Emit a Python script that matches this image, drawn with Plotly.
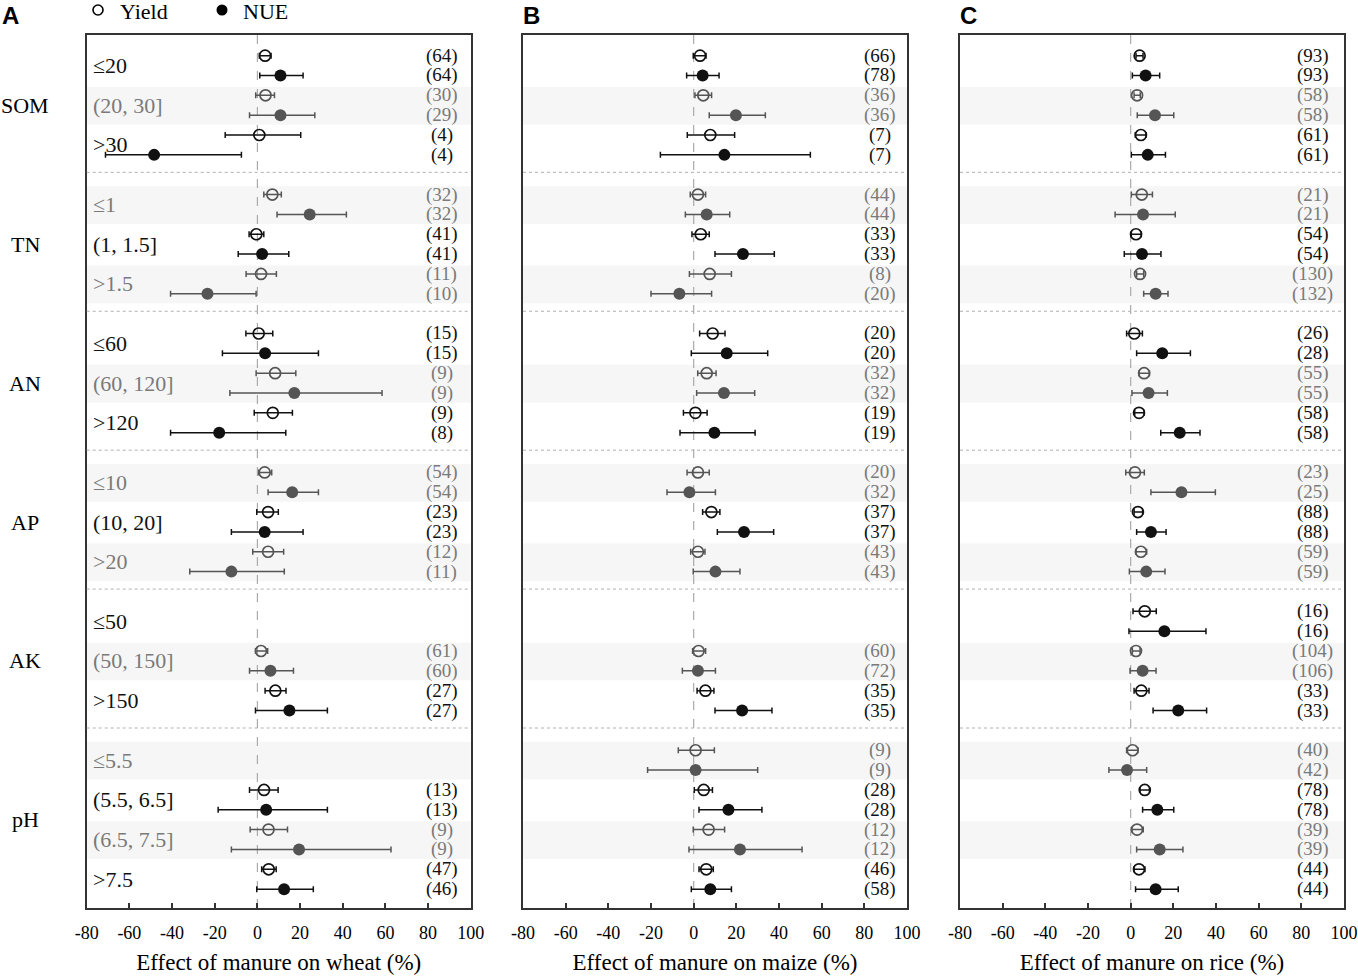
import plotly.graph_objects as go

groups = ["SOM", "TN", "AN", "AP", "AK", "pH"]
levels = [
    ["≤20", "(20, 30]", ">30"],
    ["≤1", "(1, 1.5]", ">1.5"],
    ["≤60", "(60, 120]", ">120"],
    ["≤10", "(10, 20]", ">20"],
    ["≤50", "(50, 150]", ">150"],
    ["≤5.5", "(5.5, 6.5]", "(6.5, 7.5]", ">7.5"],
]
crops = ["wheat", "maize", "rice"]
panel_letters = ["A", "B", "C"]
x_ticks = [-80, -60, -40, -20, 0, 20, 40, 60, 80, 100]

# ---- Wheat ----
wheat_yield = [3.6, 3.8, 0.9, 7.0, -0.5, 1.7, 0.6, 8.3, 7.2, 3.4, 5.0, 5.0, None, 1.7, 8.4, None, 3.1, 5.2, 5.3]
wheat_yield_lo = [0.9, -0.8, -15.1, 3.0, -3.9, -5.3, -5.4, -0.6, -1.5, 0.6, -0.3, -2.2, None, -0.9, 3.6, None, -3.7, -3.4, 2.0]
wheat_yield_hi = [6.4, 8.0, 20.3, 11.2, 3.0, 8.9, 7.2, 18.0, 16.4, 6.7, 9.8, 12.3, None, 4.8, 13.4, None, 9.7, 14.1, 8.8]
wheat_nue = [10.8, 10.8, -48.4, 24.5, 2.2, -23.4, 3.6, 17.3, -17.9, 16.3, 3.4, -12.2, None, 6.1, 15.0, None, 4.1, 19.5, 12.5]
wheat_nue_lo = [1.1, -3.7, -71.2, 9.2, -9.0, -40.7, -16.4, -12.9, -40.7, 5.0, -12.2, -31.7, None, -3.7, -0.9, None, -18.4, -12.2, -0.3]
wheat_nue_hi = [21.4, 26.9, -7.5, 41.7, 14.7, -0.6, 28.6, 58.4, 13.3, 28.6, 21.4, 12.6, None, 16.9, 32.8, None, 32.8, 62.6, 26.2]
wheat_n_yield = [64, 30, 4, 32, 41, 11, 15, 9, 9, 54, 23, 12, None, 61, 27, None, 13, 9, 47]
wheat_n_nue = [64, 29, 4, 32, 41, 10, 15, 9, 8, 54, 23, 11, None, 60, 27, None, 13, 9, 46]

# ---- Maize ----
maize_yield = [3.0, 4.5, 7.8, 2.0, 3.3, 7.5, 8.9, 6.1, 0.8, 2.0, 8.3, 2.0, None, 2.3, 5.5, 0.9, 4.7, 7.0, 5.9]
maize_yield_lo = [-0.2, 0.6, -3.0, -1.6, -0.8, -2.0, 2.8, 1.9, -4.8, -3.1, 4.2, -1.4, None, -0.5, 1.6, -7.2, 0.3, -0.2, 2.5]
maize_yield_hi = [5.8, 8.4, 19.2, 5.6, 7.3, 17.7, 14.7, 10.5, 6.3, 7.3, 12.3, 5.3, None, 5.6, 9.5, 9.7, 8.8, 14.5, 9.2]
maize_nue = [4.2, 19.8, 14.4, 6.1, 23.1, -6.7, 15.5, 14.2, 9.7, -2.0, 23.6, 10.2, None, 2.0, 22.7, 0.9, 16.3, 21.7, 7.8]
maize_nue_lo = [-3.3, 7.3, -15.6, -3.9, 10.0, -20.0, -1.1, 1.4, -6.4, -12.5, 11.1, -0.2, None, -5.3, 10.0, -21.6, 2.5, -2.2, -1.1]
maize_nue_hi = [11.9, 33.6, 54.7, 16.9, 37.8, 8.4, 34.7, 28.6, 28.8, 10.2, 37.5, 21.7, None, 10.2, 36.7, 30.0, 32.0, 50.8, 17.7]
maize_n_yield = [66, 36, 7, 44, 33, 8, 20, 32, 19, 20, 37, 43, None, 60, 35, 9, 28, 12, 46]
maize_n_nue = [78, 36, 7, 44, 33, 20, 20, 32, 19, 32, 37, 43, None, 72, 35, 9, 28, 12, 58]

# ---- Rice ----
rice_yield = [4.2, 3.0, 4.8, 5.2, 2.5, 4.4, 1.7, 6.3, 3.9, 2.0, 3.4, 4.8, 6.6, 2.5, 5.0, 0.9, 6.6, 3.0, 3.9]
rice_yield_lo = [2.5, 1.6, 2.2, 0.3, 0.3, 2.8, -1.9, 3.9, 1.9, -2.3, 1.6, 2.5, 1.1, 0.8, 1.6, -1.9, 4.4, 0.5, 1.6]
rice_yield_hi = [5.8, 4.5, 7.2, 10.2, 5.0, 6.1, 5.5, 8.8, 6.3, 6.4, 5.6, 7.5, 12.0, 4.4, 8.6, 3.4, 8.8, 5.9, 6.7]
rice_nue = [7.0, 11.4, 8.0, 5.8, 5.3, 11.7, 14.8, 8.4, 23.0, 23.8, 9.5, 7.3, 15.8, 5.6, 22.3, -1.7, 12.5, 13.6, 11.7]
rice_nue_lo = [0.8, 3.1, 0.3, -7.3, -3.0, 6.1, 2.8, 0.6, 14.1, 9.5, 2.8, -0.6, -0.8, -0.3, 10.5, -10.2, 5.6, 2.8, 2.3]
rice_nue_hi = [13.6, 20.2, 16.3, 20.9, 14.2, 17.5, 28.0, 17.2, 32.5, 39.7, 16.6, 16.1, 35.3, 11.9, 35.6, 7.5, 20.2, 24.5, 22.3]
rice_n_yield = [93, 58, 61, 21, 54, 130, 26, 55, 58, 23, 88, 59, 16, 104, 33, 40, 78, 39, 44]
rice_n_nue = [93, 58, 61, 21, 54, 132, 28, 55, 58, 25, 88, 59, 16, 106, 33, 42, 78, 39, 44]

data = {
    "wheat": (wheat_yield, wheat_yield_lo, wheat_yield_hi, wheat_nue, wheat_nue_lo, wheat_nue_hi, wheat_n_yield, wheat_n_nue),
    "maize": (maize_yield, maize_yield_lo, maize_yield_hi, maize_nue, maize_nue_lo, maize_nue_hi, maize_n_yield, maize_n_nue),
    "rice": (rice_yield, rice_yield_lo, rice_yield_hi, rice_nue, rice_nue_lo, rice_nue_hi, rice_n_yield, rice_n_nue),
}

# ---- layout geometry ----
W, H = 1358, 977
SERIF = "Liberation Serif, Times New Roman, serif"
BLACK = "#111111"
GREY_MARK = "#555555"
GREY_TEXT = "#7a7a7a"
BAND = "#f6f6f6"

panel_px = [(86.7, 470.8), (523, 907), (960, 1344)]
top_px, bot_px = 35, 908
count_xpos = [0.925, 0.930, 0.919]

# row positions (units)
level_rows = []  # yield row of each level
level_shaded = []
level_group = []
gi = 0
for g, levs in enumerate(groups):
    for k, _ in enumerate(levels[g]):
        level_rows.append(1 + 7 * g + 2 * k)
        level_shaded.append(gi % 2 == 1)
        level_group.append(g)
        gi += 1
sep_rows = [1 + 7 * g + 5 + 0.88 for g in range(len(groups) - 1)]

fig = go.Figure()
shapes = []
annotations = []

for p, crop in enumerate(crops):
    xs = "" if p == 0 else str(p + 1)
    xa, ya = "x" + xs, "y" + xs
    ym, ylo, yhi, nm, nlo, nhi, ny, nn = data[crop]
    for series in ("yield", "nue"):
        for shaded in (False, True):
            col = GREY_MARK if shaded else BLACK
            X, Y, ep, em = [], [], [], []
            for i, r in enumerate(level_rows):
                if level_shaded[i] != shaded:
                    continue
                if series == "yield":
                    m, lo, hi, row = ym[i], ylo[i], yhi[i], r
                else:
                    m, lo, hi, row = nm[i], nlo[i], nhi[i], r + 1
                if m is None:
                    continue
                X.append(m); Y.append(row); ep.append(hi - m); em.append(m - lo)
            if series == "yield":
                marker = dict(symbol="circle-open", size=11, color=col, line=dict(width=1.7, color=col))
            else:
                marker = dict(symbol="circle", size=12, color=col, line=dict(width=0))
            fig.add_trace(go.Scatter(
                x=X, y=Y, mode="markers", marker=marker, xaxis=xa, yaxis=ya,
                error_x=dict(type="data", symmetric=False, array=ep, arrayminus=em,
                             color=col, thickness=1.5, width=3),
                showlegend=False, hoverinfo="x+y"))

    # shaded bands
    for i, r in enumerate(level_rows):
        if level_shaded[i]:
            shapes.append(dict(type="rect", xref=xa + " domain", yref=ya, x0=0, x1=1,
                               y0=r - 0.42, y1=r + 1.48, fillcolor=BAND, line=dict(width=0),
                               layer="below"))
    # separators
    for s in sep_rows:
        shapes.append(dict(type="line", xref=xa + " domain", yref=ya, x0=0, x1=1, y0=s, y1=s,
                           line=dict(color="#b0b0b0", width=1, dash="dot")))
    # zero line
    shapes.append(dict(type="line", xref=xa, yref=ya + " domain", x0=0, x1=0, y0=0, y1=1,
                       line=dict(color="#aaaaaa", width=1.2, dash="dash"), layer="below"))
    # counts
    for i, r in enumerate(level_rows):
        col = GREY_TEXT if level_shaded[i] else BLACK
        for n, row in ((ny[i], r), (nn[i], r + 1)):
            if n is None:
                continue
            annotations.append(dict(text=f"({n})", xref=xa + " domain", yref=ya,
                                    x=count_xpos[p], y=row, xanchor="center", yanchor="middle",
                                    showarrow=False, font=dict(family=SERIF, size=19, color=col)))
    # panel letter
    lx = 0 if p == 0 else panel_px[p][0] - 2
    annotations.append(dict(text=f"<b>{panel_letters[p]}</b>", xref="paper", yref="paper",
                            x=lx / W, y=1 - 15 / H, xanchor="left", yanchor="middle",
                            showarrow=False,
                            font=dict(family="Liberation Sans, Arial, sans-serif", size=24, color="black")))

# level labels (panel A only)
for i, r in enumerate(level_rows):
    g = level_group[i]
    k = i - sum(len(levels[j]) for j in range(g))
    col = GREY_TEXT if level_shaded[i] else BLACK
    annotations.append(dict(text=levels[g][k], xref="x domain", yref="y", x=0.012, y=r + 0.5,
                            xanchor="left", yanchor="middle", showarrow=False,
                            font=dict(family=SERIF, size=22, color=col)))
# group labels
for g, name in enumerate(groups):
    n_lv = len(levels[g])
    first = 1 + 7 * g
    mid = first + (2 * n_lv - 1) / 2
    annotations.append(dict(text=name, xref="paper", yref="y", x=25 / W, y=mid,
                            xanchor="center", yanchor="middle", showarrow=False,
                            font=dict(family=SERIF, size=22, color="black")))

# legend (drawn manually)
shapes.append(dict(type="circle", xref="paper", yref="paper", xsizemode="pixel", ysizemode="pixel",
                   xanchor=98 / W, yanchor=1 - 10 / H, x0=-5, x1=5, y0=-5, y1=5,
                   line=dict(color="black", width=1.6), fillcolor="rgba(0,0,0,0)"))
shapes.append(dict(type="circle", xref="paper", yref="paper", xsizemode="pixel", ysizemode="pixel",
                   xanchor=222 / W, yanchor=1 - 10 / H, x0=-5.5, x1=5.5, y0=-5.5, y1=5.5,
                   line=dict(color="black", width=0), fillcolor="black"))
annotations.append(dict(text="Yield", xref="paper", yref="paper", x=118 / W, y=1 - 11 / H,
                        xanchor="left", yanchor="middle", showarrow=False,
                        font=dict(family=SERIF, size=22, color="black")))
annotations.append(dict(text="NUE", xref="paper", yref="paper", x=241 / W, y=1 - 11 / H,
                        xanchor="left", yanchor="middle", showarrow=False,
                        font=dict(family=SERIF, size=22, color="black")))

layout = dict(
    width=W, height=H, margin=dict(l=0, r=0, t=0, b=0, autoexpand=False),
    paper_bgcolor="white", plot_bgcolor="white",
    shapes=shapes, annotations=annotations, showlegend=False,
    font=dict(family=SERIF, color="black"),
)
ydom = [1 - bot_px / H, 1 - top_px / H]
for p, crop in enumerate(crops):
    xs = "" if p == 0 else str(p + 1)
    layout["xaxis" + xs] = dict(
        domain=[panel_px[p][0] / W, panel_px[p][1] / W], range=[-80, 100],
        tickvals=x_ticks, ticktext=[str(v) for v in x_ticks],
        ticks="inside", ticklen=5, tickwidth=1.5, tickcolor="#333333",
        ticklabelstandoff=8,
        showline=True, linecolor="#333333", linewidth=1.5, mirror=True,
        showgrid=False, zeroline=False, anchor="y" + xs, automargin=False,
        tickfont=dict(family=SERIF, size=18, color="black"),
        title=dict(text=f"Effect of manure on {crop} (%)", standoff=12,
                   font=dict(family=SERIF, size=23, color="black")),
    )
    layout["yaxis" + xs] = dict(
        domain=ydom, range=[43.95, -0.04], showticklabels=False, ticks="",
        showline=True, linecolor="#333333", linewidth=1.5, mirror=True,
        showgrid=False, zeroline=False, anchor="x" + xs, automargin=False,
    )

fig.update_layout(**layout)
fig.write_html("out.html", config={"displayModeBar": False},
               post_script="document.body.style.margin='0';document.body.style.overflow='hidden';")
